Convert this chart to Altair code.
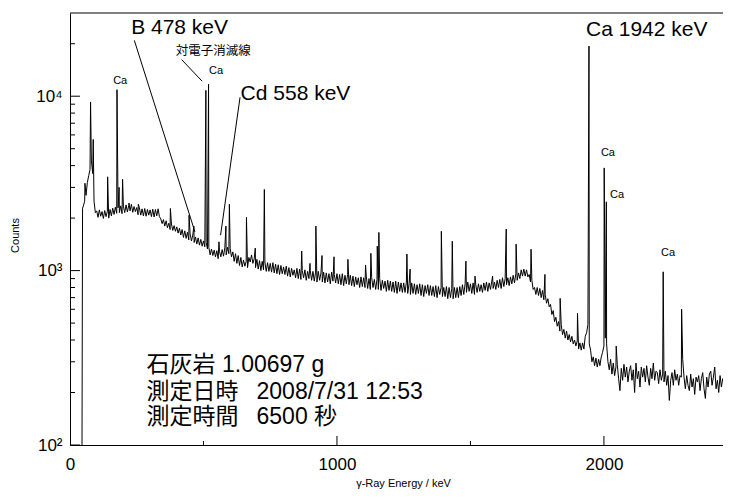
import altair as alt
import pandas as pd

# ---------------- data ----------------
channel_start_kev = 50
channel_step_kev = 5
continuum_counts = [
    2350, 2500, 2700, 3200, 3500, 3800, 4300, 3600, 2500, 2150,   # 50
    2200, 2020, 2230, 2050, 2180, 1990, 2210, 2040, 2190, 2000,   # 100
    2240, 2060, 2280, 2100, 2310, 2130, 2290, 2150, 2350, 2120,   # 150
    2340, 2150, 2380, 2170, 2360, 2200, 2400, 2160, 2330, 2180,   # 200
    2300, 2090, 2290, 2080, 2260, 2060, 2270, 2050, 2240, 2080,   # 250
    2230, 2040, 2250, 2030, 2240, 2060, 2260, 2040, 1980, 1860,   # 300
    1960, 1800, 1930, 1760, 1870, 1720, 1850, 1700, 1810, 1680,   # 350
    1780, 1640, 1750, 1600, 1720, 1550, 1690, 1530, 1660, 1500,   # 400
    1620, 1480, 1600, 1450, 1560, 1420, 1540, 1400, 1510, 1380,   # 450
    1480, 1370, 1450, 1330, 1360, 1230, 1330, 1220, 1310, 1200,   # 500
    1300, 1170, 1290, 1200, 1320, 1210, 1350, 1230, 1360, 1250,   # 550
    1340, 1200, 1280, 1130, 1250, 1100, 1220, 1070, 1190, 1050,   # 600
    1150, 1060, 1130, 1040, 1190, 1120, 1230, 1100, 1170, 1040,   # 650
    1160, 1020, 1140, 1000, 1130, 1010, 1120, 990, 1110, 990,     # 700
    1100, 980, 1110, 970, 1090, 960, 1080, 950, 1070, 960,        # 750
    1050, 950, 1060, 930, 1040, 920, 1030, 940, 1010, 910,        # 800
    1030, 900, 1020, 890, 1000, 910, 1010, 880, 990, 900,         # 850
    1000, 880, 990, 870, 980, 860, 990, 880, 970, 860,            # 900
    980, 850, 970, 860, 960, 840, 980, 870, 950, 850,             # 950
    960, 840, 950, 830, 960, 820, 940, 840, 950, 830,             # 1000
    940, 820, 930, 810, 920, 830, 910, 800, 920, 810,             # 1050
    910, 800, 920, 790, 900, 780, 910, 800, 890, 780,             # 1100
    890, 780, 900, 770, 880, 790, 870, 760, 880, 770,             # 1150
    870, 760, 860, 750, 870, 740, 860, 760, 850, 750,             # 1200
    850, 750, 860, 740, 840, 730, 850, 740, 840, 730,             # 1250
    830, 740, 840, 720, 830, 710, 820, 740, 830, 720,             # 1300
    820, 720, 810, 710, 820, 700, 810, 730, 800, 710,             # 1350
    800, 710, 810, 690, 800, 700, 790, 690, 800, 700,             # 1400
    800, 700, 810, 720, 830, 730, 840, 750, 860, 760,             # 1450
    840, 740, 850, 730, 830, 750, 840, 760, 830, 750,             # 1500
    850, 770, 860, 760, 850, 780, 870, 790, 860, 780,             # 1550
    880, 800, 890, 790, 910, 810, 900, 830, 910, 820,             # 1600
    920, 840, 940, 850, 960, 880, 970, 900, 1010, 930,            # 1650
    1020, 930, 1010, 920, 950, 860, 880, 780, 800, 730,           # 1700
    800, 720, 790, 700, 770, 680, 730, 650, 690, 620,             # 1750
    640, 560, 590, 510, 540, 480, 510, 450, 490, 430,             # 1800
    460, 410, 450, 400, 430, 390, 420, 380, 400, 370,             # 1850
    395, 355, 385, 350, 385, 355, 420, 440, 490, 380,             # 1900
    350, 300, 320, 285, 315, 280, 310, 285, 320, 340,             # 1950
    370, 410, 380, 300, 270, 310, 255, 295, 250, 280,             # 2000
    290, 240, 205, 275, 235, 290, 245, 280, 230, 265,             # 2050
    285, 235, 270, 200, 295, 240, 265, 215, 280, 245,             # 2100
    275, 230, 285, 245, 220, 275, 240, 295, 235, 265,             # 2150
    260, 225, 270, 235, 255, 230, 265, 220, 250, 180,             # 2200
    235, 260, 220, 270, 235, 255, 220, 250, 245, 310,             # 2250
    245, 210, 250, 220, 205, 255, 215, 240, 195, 245,             # 2300
    230, 250, 205, 240, 260, 210, 185, 245, 215, 255,             # 2350
    265, 220, 245, 280, 210, 235, 200, 250, 215, 240,             # 2400
    235, 205, 185, 240, 290,                                      # 2450
]
lead_in_energy = [45, 47]
lead_in_counts = [100, 2280]

peak_energy = [56, 77, 87, 141, 176, 184, 197, 221, 256, 376, 446, 464,
               509, 519, 558, 584, 597, 661, 694, 728, 868, 899, 921, 944,
               989, 1041, 1107, 1127, 1151, 1157, 1262, 1274, 1391, 1432,
               1483, 1517, 1583, 1634, 1671, 1727, 1779, 1836, 1901, 1944,
               2001, 2009, 2046, 2222, 2291]
peak_counts = [3170, 9270, 5650, 3450, 10900, 3000, 3340, 2440, 2400, 2270, 2080, 1800,
               10800, 11700, 1462, 1800, 2400, 2020, 1346, 2920, 1294, 1100, 1800, 1220,
               1200, 1160, 1077, 1256, 1381, 1655, 1245, 1020, 1682, 1475,
               1133, 930, 930, 1730, 1419, 1327, 951, 693, 569, 19400,
               3880, 2480, 369, 984, 601]

# annotation texts (anchored in data coordinates: energy keV, counts)
big_text = ["B 478 keV", "Cd 558 keV", "Ca 1942 keV",
            "石灰岩 1.00697 g", "測定日時\u2002 2008/7/31 12:53", "測定時間\u2002 6500 秒"]
big_energy = [229, 639, 1933, 287, 287, 287]
big_counts = [24500, 10300, 24000, 287, 202, 145]
big_size = [21, 21, 21, 23, 23, 23]

small_text = ["対電子消滅線", "Ca", "Ca", "Ca", "Ca", "Ca"]
small_energy = [537, 188, 547, 2015, 2049, 2240]
small_counts = [18200, 12170, 13930, 4700, 2700, 1262]
small_size = [12.5, 11, 11, 11, 11, 11]

leader_e1 = [241, 418, 637]
leader_c1 = [20900, 16220, 9860]
leader_e2 = [468, 495, 564]
leader_c2 = [1667, 12190, 1597]

y_tick_labels = {100: "10²", 1000: "10³", 10000: "10⁴"}
y_major_ticks = [100, 1000, 10000]
y_minor_ticks = [200, 300, 400, 500, 600, 700, 800, 900,
                 2000, 3000, 4000, 5000, 6000, 7000, 8000, 9000, 20000]
x_label_values = [0, 1000, 2000]
x_major_ticks = [1000, 2000]
x_minor_ticks = [500, 1500]

# ---------------- build ----------------
W, H = 653, 432
LATIN = "Liberation Sans"
MIXED = "Liberation Sans, Noto Sans CJK JP"

energies = lead_in_energy + [channel_start_kev + i * channel_step_kev
                             for i in range(len(continuum_counts))] + peak_energy
counts = lead_in_counts + continuum_counts + peak_counts
spec = pd.DataFrame({"energy": energies, "counts": counts}).sort_values("energy")

x_scale = alt.Scale(domain=[0, 2446], nice=False, zero=False)
y_scale = alt.Scale(type="log", domain=[100, 30000], nice=False)

label_expr = " : ".join(
    [f"datum.value == {k} ? '{v}'" for k, v in list(y_tick_labels.items())[:-1]]
) + f" : '{list(y_tick_labels.values())[-1]}'"

x_axis = alt.Axis(values=x_label_values, format="d", ticks=False, grid=False,
                  domainColor="black", domainWidth=1,
                  labelFont=LATIN, labelFontSize=17, labelColor="black",
                  labelPadding=11, labelFlush=False,
                  title="γ-Ray Energy / keV", titleFont=LATIN,
                  titleFontSize=11, titleFontWeight="normal",
                  titleColor="black", titleX=333, titleY=32)
y_axis = alt.Axis(values=y_major_ticks, labelExpr=label_expr, ticks=False,
                  grid=False, domainColor="black", domainWidth=1,
                  labelFont=LATIN, labelFontSize=17, labelColor="black",
                  labelPadding=8, labelFlush=False,
                  title="Counts", titleFont=LATIN, titleFontSize=11,
                  titleFontWeight="normal", titleColor="black",
                  titleX=-50, titleY=222)


def X(field):
    return alt.X(field, scale=x_scale, axis=x_axis, title="γ-Ray Energy / keV")


def Y(field):
    return alt.Y(field, scale=y_scale, axis=y_axis, title="Counts")


line = alt.Chart(spec).mark_line(color="black", strokeWidth=1, clip=True).encode(
    x=X("energy:Q"), y=Y("counts:Q"))


def tick_df(vals):
    return pd.DataFrame({"v": vals})


y_major = alt.Chart(tick_df(y_major_ticks)).mark_rule(color="black").encode(
    y=Y("v:Q"), x=alt.value(0), x2=alt.value(10))
y_minor = alt.Chart(tick_df(y_minor_ticks)).mark_rule(color="black").encode(
    y=Y("v:Q"), x=alt.value(0), x2=alt.value(5))
x_major = alt.Chart(tick_df(x_major_ticks)).mark_rule(color="black").encode(
    x=X("v:Q"), y=alt.value(H), y2=alt.value(H - 9))
x_minor = alt.Chart(tick_df(x_minor_ticks)).mark_rule(color="black").encode(
    x=X("v:Q"), y=alt.value(H), y2=alt.value(H - 4))
top_frame = alt.Chart(pd.DataFrame({"a": [0]})).mark_rule(color="black").encode(
    x=alt.value(0), x2=alt.value(W), y=alt.value(0))

leaders = alt.Chart(pd.DataFrame({"e1": leader_e1, "c1": leader_c1,
                                  "e2": leader_e2, "c2": leader_c2})).mark_rule(
    color="black", strokeWidth=1).encode(
    x=X("e1:Q"), x2="e2:Q", y=Y("c1:Q"), y2="c2:Q")

big = alt.Chart(pd.DataFrame({"e": big_energy, "c": big_counts, "t": big_text,
                              "s": big_size})).mark_text(
    align="left", baseline="middle", font=MIXED, color="black").encode(
    x=X("e:Q"), y=Y("c:Q"), text="t:N", size=alt.Size("s:Q", scale=None))

small = alt.Chart(pd.DataFrame({"e": small_energy, "c": small_counts, "t": small_text,
                                "s": small_size})).mark_text(
    align="center", baseline="middle", font=MIXED, color="black").encode(
    x=X("e:Q"), y=Y("c:Q"), text="t:N", size=alt.Size("s:Q", scale=None))

chart = alt.layer(line, y_major, y_minor, x_major, x_minor, top_frame,
                  leaders, big, small).properties(
    width=W, height=H,
    autosize=alt.AutoSizeParams(type="none"),
    padding={"left": 62, "top": 5, "right": 0, "bottom": 46},
    background="white",
).configure_view(stroke=None)

chart.save("out.html", embed_options={"renderer": "svg", "actions": False})
